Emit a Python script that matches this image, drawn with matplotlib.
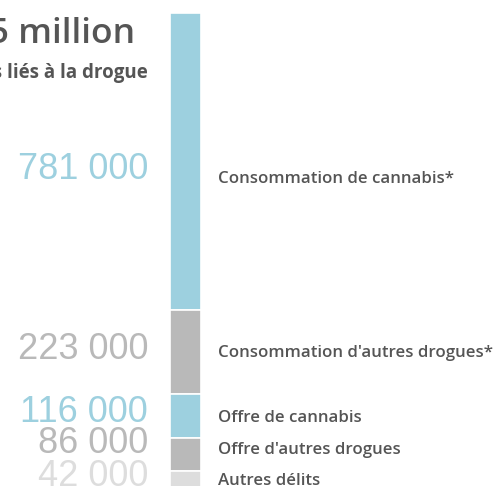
import matplotlib.pyplot as plt
import numpy as np

# Infractions liées à la drogue (en milliers)
categories = ["Consommation de cannabis*", "Consommation d'autres drogues*",
              "Offre de cannabis", "Offre d'autres drogues", "Autres délits"]
values = [781, 223, 116, 86, 42]
value_labels = ["781 000", "223 000", "116 000", "86 000", "42 000"]
colors = ["#9dd0df", "#b9b9b9", "#9dd0df", "#b9b9b9", "#dddddd"]

title = "1,25 million"
subtitle = "Nombre de délits liés à la drogue"

plt.rcParams['font.family'] = ['Open Sans', 'DejaVu Sans']

W, H = 497, 486
fig = plt.figure(figsize=(W / 100, H / 100), dpi=100)
ax = fig.add_axes([0, 0, 1, 1])
ax.set_axis_off()

# y in thousands, x in pixels
top_px = 13
scale = (H + 1 - top_px) / sum(values)  # px per thousand


def py(p):
    # pixel row -> data y
    return (p - top_px) / scale


ax.set_xlim(0, W)
ax.set_ylim(py(H), py(0))

bottoms = np.concatenate([[0], np.cumsum(values)[:-1]])
ax.bar(185.5, values, bottom=bottoms, width=31, color=colors,
       edgecolor='white', linewidth=1.2)

# label baselines (pixels), nudged apart so they do not overlap
num_base = [179, 358.5, 421.5, 453, 485.5]
lab_base = [183, 357, 421.5, 453.5, 485]

for i in range(len(values)):
    ax.text(148, py(num_base[i]), value_labels[i], ha='right', va='baseline',
            fontsize=26, color=colors[i], family=['Liberation Sans', 'DejaVu Sans'])
    ax.text(218, py(lab_base[i]), categories[i], ha='left', va='baseline',
            fontsize=12.2, fontweight='semibold', color='#555555')

ax.text(135, py(43), title, ha='right', va='baseline', fontsize=25.5,
        color='#555555', fontweight='semibold')
ax.text(148, py(78), subtitle, ha='right', va='baseline', fontsize=13.5,
        fontweight='bold', color='#555555')

fig.savefig('out.png', dpi=100)
